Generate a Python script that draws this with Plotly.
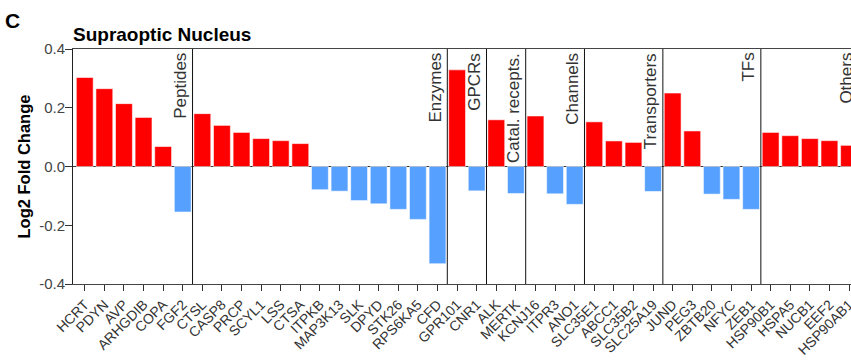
import plotly.graph_objects as go

genes = ["HCRT", "PDYN", "AVP", "ARHGDIB", "COPA", "FGF2",
         "CTSL", "CASP8", "PRCP", "SCYL1", "LSS", "CTSA", "ITPKB", "MAP3K13", "SLK", "DPYD", "STK26", "RPS6KA5", "CFD",
         "GPR101", "CNR1",
         "ALK", "MERTK",
         "KCNJ16", "ITPR3", "ANO1",
         "SLC35E1", "ABCC1", "SLC35B2", "SLC25A19",
         "JUND", "PEG3", "ZBTB20", "NFYC", "ZEB1",
         "HSP90B1", "HSPA5", "NUCB1", "EEF2", "HSP90AB1"]
log2fc = [0.303, 0.265, 0.214, 0.167, 0.068, -0.155,
          0.180, 0.140, 0.116, 0.095, 0.088, 0.078, -0.079, -0.084, -0.116, -0.127, -0.146, -0.180, -0.331,
          0.329, -0.083,
          0.159, -0.092,
          0.172, -0.093, -0.129,
          0.152, 0.087, 0.082, -0.085,
          0.250, 0.121, -0.094, -0.112, -0.146,
          0.116, 0.105, 0.095, 0.088, 0.072]
groups = ["Peptides", "Enzymes", "GPCRs", "Catal. recepts.", "Channels", "Transporters", "TFs", "Others"]
group_sizes = [6, 13, 2, 2, 3, 4, 5, 5]
y_ticks = [-0.4, -0.2, 0.0, 0.2, 0.4]
y_ticktext = ["-0.4", "-0.2", "0.0", "0.2", "0.4"]

RED = "#FF0000"
BLUE = "#56A0FF"
FONT = "Arial, Liberation Sans, Helvetica, sans-serif"

x_idx = list(range(len(genes)))
colors = [RED if v >= 0 else BLUE for v in log2fc]

fig = go.Figure()
fig.add_trace(go.Bar(
    x=x_idx, y=log2fc,
    marker=dict(color=colors, line=dict(color="rgba(255,255,255,0.55)", width=1)),
    hoverinfo="skip",
))

shapes = []
annotations = []
end = -1
for name, n in zip(groups, group_sizes):
    end += n
    if end < len(genes) - 1:
        shapes.append(dict(type="line", xref="x", yref="paper", x0=end + 0.5, x1=end + 0.5,
                           y0=0, y1=1, line=dict(color="#111", width=1)))
    annotations.append(dict(text=name, xref="x", yref="paper", x=end - 0.15, y=1,
                            xanchor="center", yanchor="top", yshift=-2, textangle=-90,
                            showarrow=False, font=dict(family=FONT, size=17, color="#333")))

# titles
annotations.append(dict(text="<b>Supraoptic Nucleus</b>", xref="paper", yref="paper", x=0, y=1,
                        xanchor="left", yanchor="bottom", xshift=-2, yshift=2, showarrow=False,
                        font=dict(family=FONT, size=19, color="#000")))
annotations.append(dict(text="<b>C</b>", xref="paper", yref="paper", x=0, y=1,
                        xanchor="left", yanchor="middle", xshift=-69, yshift=29, showarrow=False,
                        borderpad=0, font=dict(family=FONT, size=21, color="#000")))
annotations.append(dict(text="<b>Log2 Fold Change</b>", xref="paper", yref="paper", x=0, y=0.5,
                        xanchor="center", yanchor="middle", xshift=-50, textangle=-90, showarrow=False,
                        font=dict(family=FONT, size=16.5, color="#000")))

# chart continues past the right edge of the picture (clipped, as in the reference)
fig.update_layout(
    width=851, height=360,
    margin=dict(l=73, r=0, t=49, b=76),
    paper_bgcolor="white", plot_bgcolor="white",
    showlegend=False, bargap=0.14,
    shapes=shapes, annotations=annotations,
    font=dict(family=FONT, color="#333"),
)
fig.update_xaxes(
    automargin=False,
    range=[-0.6, 39.1], tickvals=x_idx, ticktext=genes, tickangle=-45,
    tickfont=dict(family=FONT, size=14, color="#333"), ticklabeloverflow="allow",
    ticks="outside", ticklen=6, tickcolor="#333",
    showline=True, linecolor="#444", linewidth=1, mirror=True,
    showgrid=False, zeroline=False,
)
fig.update_yaxes(
    automargin=False,
    range=[-0.4, 0.4], tickvals=y_ticks, ticktext=y_ticktext,
    tickfont=dict(family=FONT, size=15, color="#444"),
    ticks="outside", ticklen=7, tickcolor="#333", ticklabelstandoff=-3,
    showline=True, linecolor="#222", linewidth=1,
    showgrid=False, zeroline=True, zerolinecolor="#333", zerolinewidth=1,
)

fig.write_html(
    "out.html",
    config={"displayModeBar": False},
    post_script="document.body.style.margin='0px';document.documentElement.style.overflow='hidden';",
)
